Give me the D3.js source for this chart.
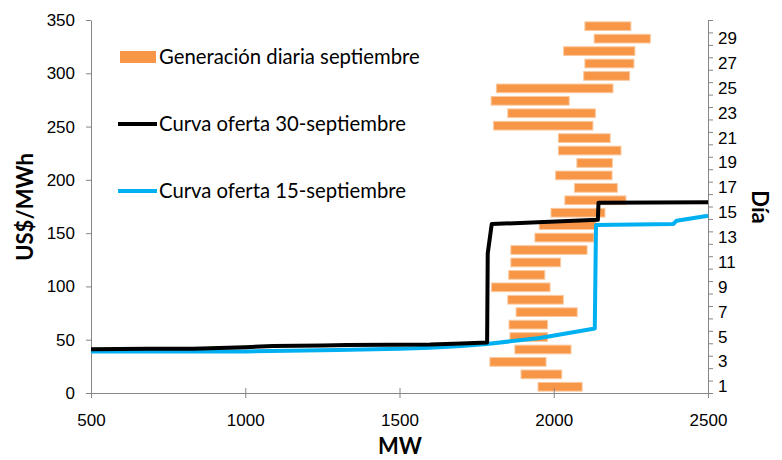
<!DOCTYPE html>
<html>
<head>
<meta charset="utf-8">
<script src="https://cdn.jsdelivr.net/npm/d3@7"></script>
<style>
  body { margin: 0; background: #fff; }
  svg { font-family: Lato, "Open Sans", sans-serif; }
  .axis path, .axis line { stroke: #868686; }
  .axis text { fill: #000; font-size: 17px; }
</style>
</head>
<body>
<script>
// daily generation range (MW) per day of september
var days = [1,2,3,4,5,6,7,8,9,10,11,12,13,14,15,16,17,18,19,20,21,22,23,24,25,26,27,28,29,30];
var genMin = [1949,1894,1793,1874,1858,1855,1878,1851,1798,1854,1861,1861,1939,1953,1991,2036,2067,2006,2075,2015,2015,1805,1851,1797,1814,2097,2101,2032,2131,2101];
var genMax = [2092,2026,1975,2056,1980,1980,2076,2031,1988,1971,2022,2108,2130,2137,2166,2234,2206,2189,2190,2218,2183,2127,2135,2050,2192,2246,2260,2263,2313,2250];

// offer curve 30-sept
var mw30 = [500,680,830,1000,1090,1250,1330,1600,1700,1784,1786,1799,2143,2145,2500];
var price30 = [41,41.5,41.5,43,44,44.5,45,45.5,46.5,47.5,131,158.5,162.5,178.5,179];

// offer curve 15-sept
var mw15 = [500,1000,1300,1500,1600,1700,1783,1955,2133,2135,2137,2388,2398,2500];
var price15 = [39,39,40.3,41.5,42.5,44,46,51.6,60.5,110,157.6,158.6,161.7,166.4];

var xTicks = [500,1000,1500,2000,2500];
var yTicks = [0,50,100,150,200,250,300,350];
var legendLabels = ['Generación diaria septiembre','Curva oferta 30-septiembre','Curva oferta 15-septiembre'];

var width = 782, height = 460;
var mLeft = 91, mRight = 708, mTop = 20, mBottom = 393;

var svg = d3.select('body').append('svg')
    .attr('width', width)
    .attr('height', height);

var x = d3.scaleLinear().domain([500, 2500]).range([mLeft, mRight]);
var y = d3.scaleLinear().domain([0, 350]).range([mBottom, mTop]);
var dayLin = d3.scaleLinear().domain([0, 30]).range([mBottom, mTop]);
var dayBand = d3.scaleBand().domain(days).range([mBottom, mTop]).paddingInner(0.3).paddingOuter(0.15);

// bars
svg.append('g').selectAll('rect')
  .data(days)
  .enter()
  .append('rect')
    .attr('x', function(d, i) { return x(genMin[i]); })
    .attr('width', function(d, i) { return x(genMax[i]) - x(genMin[i]); })
    .attr('y', function(d) { return dayBand(d); })
    .attr('height', dayBand.bandwidth())
    .style('fill', '#f79646')
    .style('stroke', '#fbc9a0')
    .style('stroke-width', 1);

// axes
svg.append('g')
    .attr('class', 'axis')
    .attr('transform', 'translate(' + mLeft + ',0)')
    .call(d3.axisLeft(y).tickValues(yTicks).tickSize(5).tickPadding(11).tickSizeOuter(0));

var xAxis = svg.append('g')
    .attr('class', 'axis')
    .attr('transform', 'translate(0,' + mBottom + ')')
    .call(d3.axisBottom(x).tickValues(xTicks).tickFormat(d3.format('d'))
      .tickSize(5).tickPadding(16).tickSizeOuter(0));
xAxis.selectAll('.tick line').attr('y1', -5);

svg.append('g')
    .attr('class', 'axis')
    .attr('transform', 'translate(' + mRight + ',0)')
    .call(d3.axisRight(dayLin).tickValues(d3.range(0, 31)).tickSize(5).tickFormat('').tickSizeOuter(0));

var dayAxis = svg.append('g')
    .attr('class', 'axis')
    .attr('transform', 'translate(' + mRight + ',0)')
    .call(d3.axisRight(dayBand).tickSize(0).tickPadding(10)
      .tickFormat(function(d) { return d % 2 ? d : ''; }));
dayAxis.select('.domain').remove();

// curves
var line = d3.line()
    .x(function(d) { return x(d[0]); })
    .y(function(d) { return y(d[1]); });

svg.append('path')
    .datum(d3.zip(mw15, price15))
    .attr('d', line)
    .style('fill', 'none')
    .style('stroke', '#00b0f0')
    .style('stroke-width', 4)
    .style('stroke-linejoin', 'round');

svg.append('path')
    .datum(d3.zip(mw30, price30))
    .attr('d', line)
    .style('fill', 'none')
    .style('stroke', '#000')
    .style('stroke-width', 4)
    .style('stroke-linejoin', 'round');

// legend
var legend = svg.append('g');
legend.append('rect')
    .attr('x', 120).attr('y', 51)
    .attr('width', 36).attr('height', 12)
    .style('fill', '#f79646');
legend.append('line')
    .attr('x1', 118).attr('x2', 157).attr('y1', 124).attr('y2', 124)
    .style('stroke', '#000').style('stroke-width', 4);
legend.append('line')
    .attr('x1', 118).attr('x2', 157).attr('y1', 191).attr('y2', 191)
    .style('stroke', '#00b0f0').style('stroke-width', 4);
legend.selectAll('text')
  .data(legendLabels)
  .enter()
  .append('text')
    .attr('x', 159)
    .attr('y', function(d, i) { return [64, 131, 198][i]; })
    .style('font-size', '20.3px')
    .text(function(d) { return d; });

// axis titles
svg.append('text')
    .attr('transform', 'translate(33,207) rotate(-90)')
    .attr('text-anchor', 'middle')
    .style('font-size', '22px')
    .style('font-weight', 'bold')
    .text('US$/MWh');

svg.append('text')
    .attr('x', 400).attr('y', 454)
    .attr('text-anchor', 'middle')
    .style('font-size', '22px')
    .style('font-weight', 'bold')
    .text('MW');

svg.append('text')
    .attr('transform', 'translate(752,207) rotate(90)')
    .attr('text-anchor', 'middle')
    .style('font-size', '22px')
    .style('font-weight', 'bold')
    .text('Día');
</script>
</body>
</html>
